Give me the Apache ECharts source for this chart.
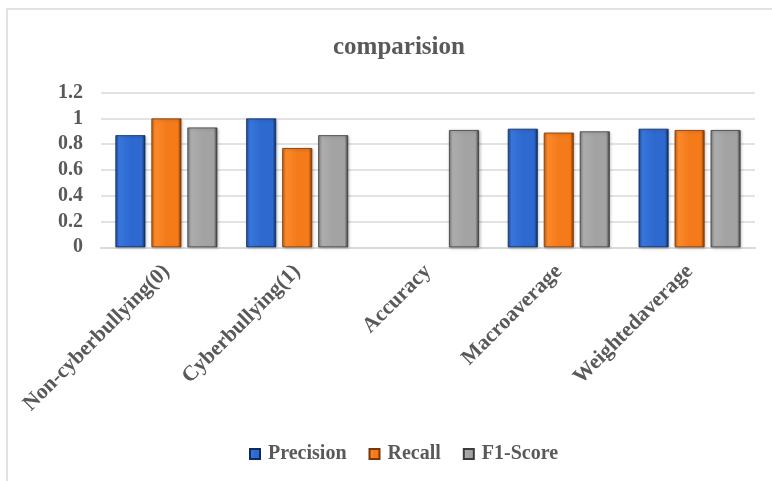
<!DOCTYPE html>
<html>
<head>
<meta charset="utf-8">
<title>comparision</title>
<script src="https://cdn.jsdelivr.net/npm/echarts@6/dist/echarts.min.js"></script>
<style>
  html, body { margin: 0; padding: 0; background: #ffffff; }
  #chart { width: 772px; height: 481px; }
</style>
</head>
<body>
<div id="chart"></div>
<script>
// Classification report metrics per class / summary row
const categories = ['Non-cyberbullying(0)', 'Cyberbullying(1)', 'Accuracy', 'Macroaverage', 'Weightedaverage'];
const precision = [0.87, 1.00, null, 0.92, 0.92];
const recall    = [1.00, 0.77, null, 0.89, 0.91];
const f1Score   = [0.93, 0.87, 0.91, 0.90, 0.91];
const yTicks = { min: 0, max: 1.2, interval: 0.2 };

const FONT = '"Liberation Serif", "Times New Roman", serif';
const TEXT = '#595959';

// Bevelled column look: darker edges, lighter body
function bevel(edgeL, body, bodyHi, edgeR) {
  return new echarts.graphic.LinearGradient(0, 0, 1, 0, [
    { offset: 0, color: edgeL },
    { offset: 0.12, color: bodyHi },
    { offset: 0.5, color: body },
    { offset: 0.88, color: body },
    { offset: 1, color: edgeR }
  ]);
}
const blueFill = bevel('#1d4a9e', '#2e69cf', '#3877dd', '#102a5c');
const orangeFill = bevel('#c95c0c', '#f47a1a', '#fb8a2c', '#7a3604');
const grayFill = bevel('#7d7d7d', '#a3a3a3', '#adadad', '#3c3c3c');

function barSeries(name, data, fill, border) {
  return {
    name: name,
    type: 'bar',
    data: data,
    barWidth: 30,
    barGap: '20%',
    barCategoryGap: '22%',
    itemStyle: {
      color: fill,
      borderColor: border,
      borderWidth: 0.8,
      shadowColor: 'rgba(0,0,0,0.25)',
      shadowBlur: 3,
      shadowOffsetX: 1,
      shadowOffsetY: 1
    }
  };
}

const chart = echarts.init(document.getElementById('chart'), null, { renderer: 'canvas' });
chart.setOption({
  backgroundColor: '#ffffff',
  animation: false,
  graphic: [{
    type: 'rect',
    shape: { x: 7, y: 9, width: 820, height: 520 },
    style: { fill: 'none', stroke: '#d9d9d9', lineWidth: 1.5 },
    z: -1
  }],
  title: {
    text: 'comparision',
    left: 328,
    top: 30,
    textStyle: { fontFamily: FONT, fontWeight: 'bold', fontSize: 25, color: TEXT }
  },
  legend: {
    left: 244,
    top: 439,
    itemWidth: 10,
    itemHeight: 10,
    itemGap: 22,
    icon: 'rect',
    textStyle: { fontFamily: FONT, fontWeight: 'bold', fontSize: 20, color: TEXT, padding: [0, 0, 0, 3] },
    data: ['Precision', 'Recall', 'F1-Score']
  },
  grid: { left: 101, right: 17, top: 92.7, bottom: 233.7, containLabel: false },
  xAxis: {
    type: 'category',
    data: categories,
    axisLine: { lineStyle: { color: '#d9d9d9', width: 2 } },
    axisTick: { show: false },
    axisLabel: {
      rotate: 45,
      interval: 0,
      margin: 21,
      fontFamily: FONT,
      fontWeight: 'bold',
      fontSize: 21.5,
      color: TEXT
    }
  },
  yAxis: {
    type: 'value',
    min: yTicks.min,
    max: yTicks.max,
    interval: yTicks.interval,
    axisLine: { show: false },
    axisTick: { show: false },
    splitLine: { lineStyle: { color: '#d9d9d9', width: 1.5 } },
    axisLabel: {
      margin: 18,
      fontFamily: FONT,
      fontWeight: 'bold',
      fontSize: 20,
      color: TEXT,
      formatter: v => String(Math.round(v * 10) / 10)
    }
  },
  series: [
    barSeries('Precision', precision, blueFill, '#0f2a5c'),
    barSeries('Recall', recall, orangeFill, '#7a3604'),
    barSeries('F1-Score', f1Score, grayFill, '#3c3c3c')
  ]
});
</script>
</body>
</html>
